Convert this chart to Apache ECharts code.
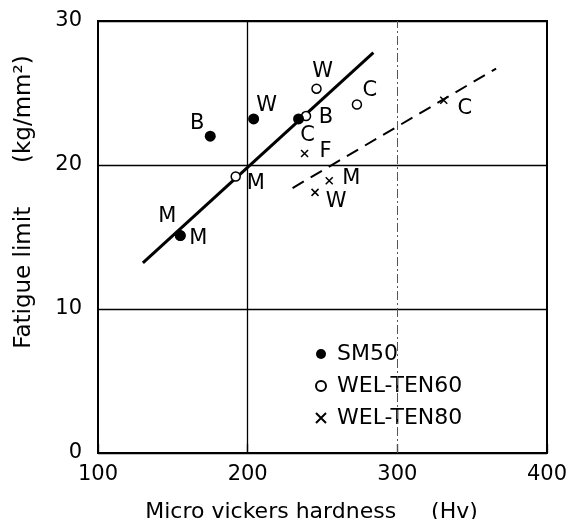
<!DOCTYPE html>
<html>
<head>
<meta charset="utf-8">
<script src="https://cdn.jsdelivr.net/npm/echarts@6/dist/echarts.min.js"></script>
<style>html,body{margin:0;padding:0;background:#fff}#c{width:573px;height:519px}</style>
</head>
<body>
<div id="c"></div>
<script>
// ---- data ----
const xTicks = [100, 200, 300, 400];
const yTicks = [0, 10, 20, 30];

const hvSM50 = [175, 204, 234, 155];
const flSM50 = [22.0, 23.2, 23.2, 15.1];
const lbSM50 = ['B', 'W', 'C', 'M'];

const hvTEN60 = [155, 192, 239, 246, 273];
const flTEN60 = [15.1, 19.2, 23.4, 25.3, 24.2];
const lbTEN60 = ['M', 'M', 'B', 'W', 'C'];

const hvTEN80 = [238, 254.5, 245, 331];
const flTEN80 = [20.8, 18.9, 18.1, 24.5];
const lbTEN80 = ['F', 'M', 'W', 'C'];

const fitSM50Hv = [130, 284];
const fitSM50Fl = [13.2, 27.8];
const fitTEN80Hv = [230, 366];
const fitTEN80Fl = [18.4, 26.7];

// ---- label offsets (style) ----
const offSM50 = [[-13, -13], [13, -13], [9, 17], [18, 3]];
const offTEN60 = [[-13, -19], [20, 7], [20, 2], [6, -17], [13, -14]];
const offTEN80 = [[21, -2], [22, -2], [21, 9], [21, 8]];

const FONT = 'DejaVu Sans';

function pts(xs, ys, lbs, offs) {
  return xs.map((x, i) => ({
    value: [x, ys[i]],
    name: lbs[i],
    label: { offset: offs[i] }
  }));
}
function line(xs, ys) { return xs.map((x, i) => [x, ys[i]]); }

const labelBase = {
  show: true, position: 'inside', formatter: p => p.name,
  color: '#000', fontFamily: FONT, fontSize: 21, align: 'center', verticalAlign: 'middle'
};

const crossPath = 'path://M0,0L10,10M10,0L0,10';

const chart = echarts.init(document.getElementById('c'), null, { renderer: 'canvas' });
chart.setOption({
  animation: false,
  backgroundColor: '#fff',
  grid: { left: 98, right: 26, top: 21, bottom: 66, outerBoundsMode: 'none', containLabel: false,
          show: true, borderColor: '#000', borderWidth: 2 },
  xAxis: {
    type: 'value', min: xTicks[0], max: xTicks[xTicks.length - 1], interval: xTicks[1] - xTicks[0],
    name: 'Micro vickers hardness     (Hv)', nameLocation: 'middle', nameGap: 48,
    nameTextStyle: { color: '#000', fontFamily: FONT, fontSize: 22, padding: [0, 22, 0, 0] },
    axisLine: { lineStyle: { color: '#000', width: 2 } },
    axisTick: { show: true, inside: true, length: 9, lineStyle: { color: '#000', width: 1.3 } },
    axisLabel: { color: '#000', fontFamily: FONT, fontSize: 21, margin: 11 },
    splitLine: { show: false }
  },
  yAxis: {
    type: 'value', min: yTicks[0], max: yTicks[yTicks.length - 1], interval: yTicks[1] - yTicks[0],
    axisLine: { lineStyle: { color: '#000', width: 2 } },
    axisTick: { show: false },
    axisLabel: { color: '#000', fontFamily: FONT, fontSize: 21, margin: 16 },
    splitLine: { show: true, lineStyle: { color: '#000', width: 1.3 } }
  },
  graphic: [{
    type: 'text', x: 24, y: 202, rotation: Math.PI / 2,
    style: { text: 'Fatigue limit      (kg/mm\u00B2)', fill: '#000', font: '23px "DejaVu Sans"', align: 'center', verticalAlign: 'middle' }
  }],
  legend: {
    orient: 'vertical', left: 310, top: 338, itemWidth: 22, itemHeight: 10, itemGap: 10,
    textStyle: { color: '#000', fontFamily: FONT, fontSize: 22 },
    data: ['SM50', 'WEL-TEN60', 'WEL-TEN80']
  },
  series: [
    {
      type: 'line', data: line(fitSM50Hv, fitSM50Fl), symbol: 'none', silent: true, z: 1,
      lineStyle: { color: '#000', width: 3 },
      markLine: {
        silent: true, symbol: 'none', label: { show: false },
        data: [
          { xAxis: 200, lineStyle: { color: '#000', width: 1.3, type: 'solid' } },
          { xAxis: 300, lineStyle: { color: '#555', width: 1, type: [9, 3, 2, 3] } }
        ]
      }
    },
    {
      type: 'line', data: line(fitTEN80Hv, fitTEN80Fl), symbol: 'none', silent: true, z: 1,
      lineStyle: { color: '#000', width: 2, type: [13, 8] }
    },
    {
      name: 'WEL-TEN60', type: 'scatter', z: 2, symbol: 'circle', symbolSize: 9,
      itemStyle: { color: '#fff', borderColor: '#000', borderWidth: 1.5, opacity: 1 },
      label: labelBase,
      data: pts(hvTEN60, flTEN60, lbTEN60, offTEN60)
    },
    {
      name: 'WEL-TEN80', type: 'scatter', z: 2, symbol: crossPath, symbolSize: 7,
      itemStyle: { color: '#000', borderColor: '#000', borderWidth: 1.5, opacity: 1 },
      label: labelBase,
      data: pts(hvTEN80, flTEN80, lbTEN80, offTEN80)
    },
    {
      name: 'SM50', type: 'scatter', z: 3, symbol: 'circle', symbolSize: 11,
      itemStyle: { color: '#000', opacity: 1 },
      label: labelBase,
      data: pts(hvSM50, flSM50, lbSM50, offSM50)
    }
  ]
});
</script>
</body>
</html>
